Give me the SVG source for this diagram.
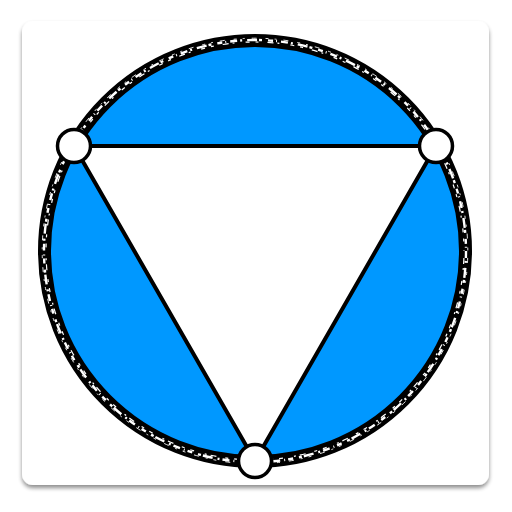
<svg xmlns="http://www.w3.org/2000/svg" width="512" height="512" viewBox="0 0 512 512">
  <defs>
    <filter id="shadow" x="-10%" y="-10%" width="120%" height="125%">
      <feGaussianBlur in="SourceAlpha" stdDeviation="2.2"/>
      <feOffset dx="0" dy="3" result="b"/>
      <feComponentTransfer><feFuncA type="linear" slope="0.45"/></feComponentTransfer>
      <feMerge><feMergeNode/><feMergeNode in="SourceGraphic"/></feMerge>
    </filter>
  </defs>
  <style>
    .vertex { fill: #ffffff; stroke: #000000; stroke-width: 3.5; }
    .edge { stroke: #000000; stroke-width: 4; fill: none; stroke-linecap: round; }
  </style>
  <rect id="card" x="22" y="21" width="467" height="464" rx="11" ry="11" fill="#ffffff" filter="url(#shadow)"/>
  <g id="disk">
    <circle cx="255" cy="251" r="209" fill="#0098ff"/>
    <polygon points="74,146 436,146 255,461" fill="#ffffff"/>
    <circle cx="255" cy="251" r="210.5" fill="none" stroke="#000000" stroke-width="13"/>
    <circle cx="255" cy="251" r="211" fill="none" stroke="#ffffff" stroke-width="2.4" stroke-dasharray="7 3 2 5 10 2 3 6 5 3 1 4"/>
    <circle cx="255" cy="251" r="209" fill="none" stroke="#ffffff" stroke-width="1.2" stroke-dasharray="3 9 6 4 2 11 4 6" stroke-dashoffset="5"/>
    <circle cx="255" cy="251" r="212.8" fill="none" stroke="#ffffff" stroke-width="0.9" stroke-dasharray="2 7 5 9 3 6" stroke-dashoffset="2"/>
  </g>
  <g id="connectors">
    <line class="edge" x1="74" y1="146" x2="436" y2="146"/>
    <line class="edge" x1="436" y1="146" x2="255" y2="461"/>
    <line class="edge" x1="255" y1="461" x2="74" y2="146"/>
  </g>
  <g id="vertex-left"><circle class="vertex" cx="74" cy="146" r="16.5"/></g>
  <g id="vertex-right"><circle class="vertex" cx="436" cy="146" r="16.5"/></g>
  <g id="vertex-bottom"><circle class="vertex" cx="255" cy="461" r="16.5"/></g>
</svg>
